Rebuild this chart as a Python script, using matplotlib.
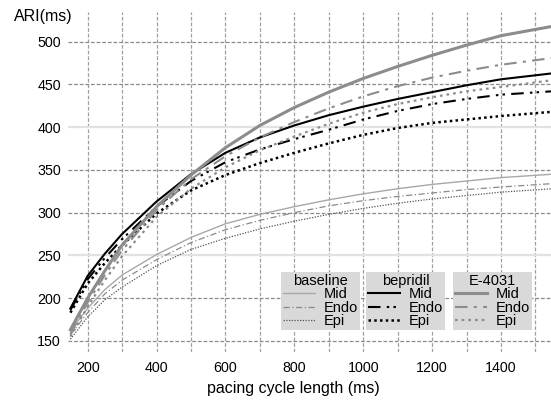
import matplotlib
matplotlib.use("Agg")
import matplotlib.pyplot as plt

plt.rcParams['font.family'] = ['Liberation Sans', 'DejaVu Sans']

# ---- data ----
cycle_length = [150, 200, 250, 300, 400, 500, 600, 700, 800, 900, 1000, 1100, 1200, 1300, 1400, 1550]

e4031_mid  = [163, 200, 232, 262, 307, 344, 376, 402, 423, 441, 457, 471, 484, 496, 507, 518]
e4031_endo = [158, 195, 227, 256, 303, 339, 366, 388, 406, 422, 436, 448, 458, 466, 473, 481]
e4031_epi  = [155, 190, 221, 249, 295, 328, 353, 373, 389, 404, 417, 427, 435, 442, 447, 455]

bepridil_mid  = [188, 226, 252, 275, 313, 345, 370, 388, 402, 414, 424, 433, 441, 449, 456, 463]
bepridil_endo = [186, 222, 247, 269, 307, 337, 359, 374, 386, 397, 409, 419, 427, 433, 438, 442]
bepridil_epi  = [183, 217, 241, 262, 299, 326, 344, 358, 370, 381, 391, 399, 405, 409, 413, 418]

baseline_mid  = [162, 188, 210, 227, 251, 271, 287, 298, 307, 315, 322, 328, 333, 337, 341, 345]
baseline_endo = [157, 183, 205, 221, 245, 265, 280, 291, 300, 308, 314, 319, 323, 327, 330, 334]
baseline_epi  = [152, 178, 198, 213, 238, 257, 270, 281, 290, 298, 305, 311, 316, 320, 324, 328]

layer_labels = ["Mid", "Endo", "Epi"]
group_titles = ["baseline", "bepridil", "E-4031"]
x_ticks = [200, 400, 600, 800, 1000, 1200, 1400]
y_ticks = [150, 200, 250, 300, 350, 400, 450, 500]

W, H = 551, 401
fig = plt.figure(figsize=(W / 100, H / 100), dpi=100)
ax = fig.add_axes([68 / W, 1 - 352 / H, (551 - 68) / W, (352 - 12) / H])
ax.set_xlim(143, 1545)
ax.set_ylim(137, 534.7)

# grid
for gx in range(200, 1501, 100):
    ax.axvline(gx, color='#a0a0a0', lw=0.9, ls=(0, (3, 1.5)), zorder=0)
for gy in range(150, 501, 50):
    if gy in (250, 400):
        ax.axhline(gy, color='#e2e2e2', lw=1.6, zorder=0)
    else:
        ax.axhline(gy, color='#8a8a8a', lw=0.9, ls=(0, (3, 1.5)), zorder=0)

for s in ax.spines.values():
    s.set_visible(False)
ax.set_xticks(x_ticks)
ax.set_yticks(y_ticks)
ax.tick_params(length=0, labelsize=10.3)
ax.tick_params(axis='x', pad=6.5)
ax.tick_params(axis='y', pad=5)

# baseline (light, thin)
b1, = ax.plot(cycle_length, baseline_mid, color='#a8a8a8', lw=1.0)
b2, = ax.plot(cycle_length, baseline_endo, color='#8a8a8a', lw=0.9, ls=(0, (5, 2, 1, 2)))
b3, = ax.plot(cycle_length, baseline_epi, color='#555555', lw=0.9, ls=(0, (1, 1.2)))

# bepridil (black)
p1, = ax.plot(cycle_length, bepridil_mid, color='black', lw=1.5)
p2, = ax.plot(cycle_length, bepridil_endo, color='black', lw=1.5, ls=(0, (6, 3, 1.2, 2, 1.2, 3)))
p3, = ax.plot(cycle_length, bepridil_epi, color='black', lw=1.8, ls=(0, (1, 1.3)))

# E-4031 (gray)
e1, = ax.plot(cycle_length, e4031_mid, color='#8c8c8c', lw=2.2)
e2, = ax.plot(cycle_length, e4031_endo, color='#8c8c8c', lw=1.5, ls=(0, (6, 3, 1.5, 3)))
e3, = ax.plot(cycle_length, e4031_epi, color='#8c8c8c', lw=1.6, ls=(0, (1.2, 1.8)))

groups = [(b1, b2, b3), (p1, p2, p3), (e1, e2, e3)]
box_left = [281, 366, 453]
for handles, title, bx in zip(groups, group_titles, box_left):
    leg = ax.legend(handles, layer_labels, title=title,
                    loc='upper left',
                    bbox_to_anchor=(bx / W, 1 - 272 / H),
                    bbox_transform=fig.transFigure,
                    fontsize=10.5, title_fontsize=10.5,
                    facecolor='#d9d9d9', edgecolor='none', framealpha=1,
                    fancybox=False, borderpad=0.15, labelspacing=-0.05,
                    handlelength=2.2, handletextpad=0.6, borderaxespad=0)
    leg.get_frame().set_linewidth(0)
    ax.add_artist(leg)

fig.text(14 / W, 1 - 16 / H, "ARI(ms)", fontsize=11.5, ha='left', va='center')
fig.text(293 / W, 1 - 388 / H, "pacing cycle length (ms)", fontsize=11.5, ha='center', va='center')

fig.savefig("out.png", dpi=100)
